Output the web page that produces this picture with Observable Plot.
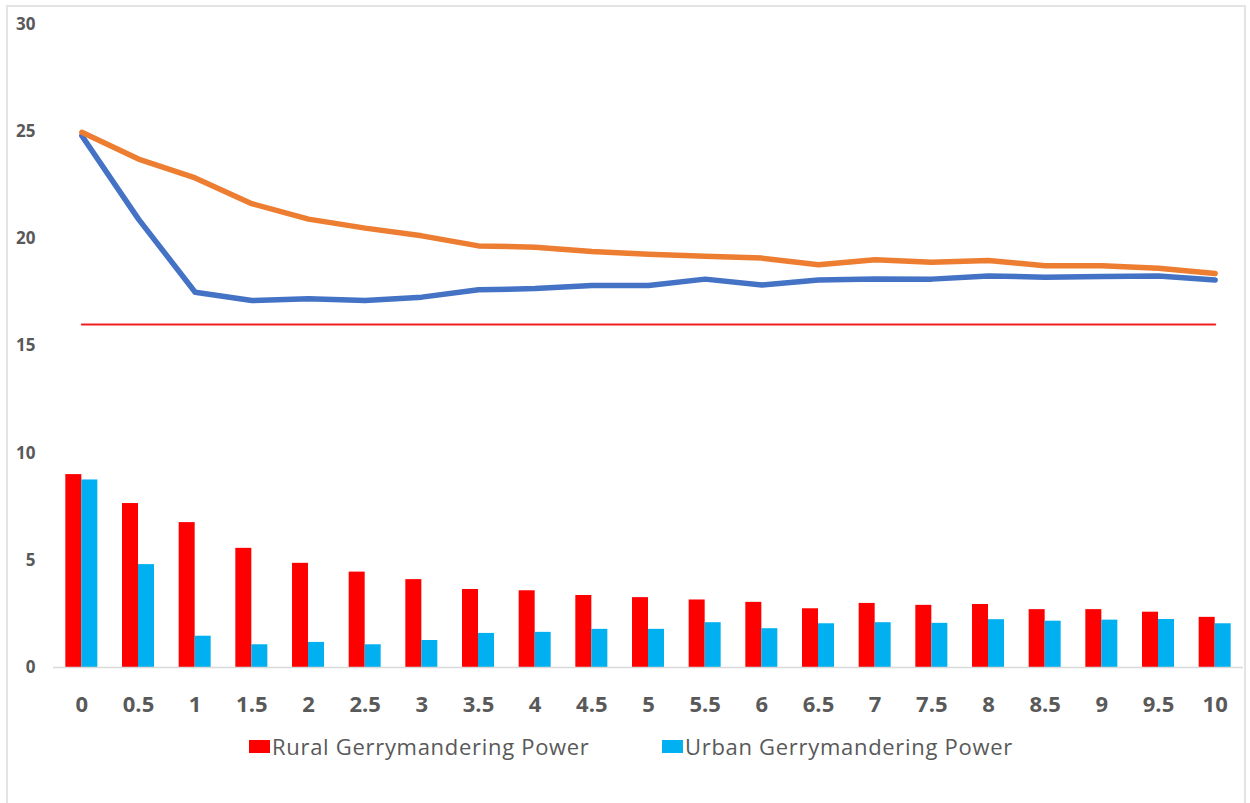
<!DOCTYPE html>
<html>
<head>
<meta charset="utf-8">
<script src="https://cdn.jsdelivr.net/npm/d3@7"></script>
<script src="https://cdn.jsdelivr.net/npm/@observablehq/plot@0.6"></script>
<style>
  html, body { margin: 0; padding: 0; background: #ffffff; }
  body { width: 1250px; height: 803px; position: relative; overflow: hidden; font-family: "Open Sans", sans-serif; }
  #frame { position: absolute; left: 6px; top: 5px; width: 1240px; height: 820px; border: 2px solid #e4e4e4; box-sizing: border-box; }
  #chart { position: absolute; left: 0; top: 0; }
  #chart g[aria-label^="y-axis"] text { font-size: 17px; font-weight: 700; fill: #595959; }
  #chart g[aria-label^="x-axis"] text { font-size: 22px; font-weight: 700; fill: #595959; }
  .legend { position: absolute; top: 731px; display: flex; align-items: center; color: #595959; font-size: 22px; letter-spacing: 0.7px; }
  .legend .sw { width: 21px; height: 13px; margin-right: 2px; }
</style>
</head>
<body>
<div id="frame"></div>
<div id="chart"></div>
<div class="legend" style="left:249px;"><div class="sw" style="background:#FF0000"></div><span>Rural Gerrymandering Power</span></div>
<div class="legend" style="left:662px;"><div class="sw" style="background:#00B0F0"></div><span>Urban Gerrymandering Power</span></div>
<script>
const categories = ["0","0.5","1","1.5","2","2.5","3","3.5","4","4.5","5","5.5","6","6.5","7","7.5","8","8.5","9","9.5","10"];
const ruralPower = [9.0,7.65,6.76,5.56,4.86,4.45,4.1,3.64,3.58,3.36,3.26,3.15,3.04,2.74,2.99,2.9,2.94,2.7,2.7,2.58,2.34];
const urbanPower = [8.75,4.8,1.46,1.06,1.17,1.06,1.26,1.59,1.64,1.78,1.78,2.09,1.81,2.04,2.09,2.06,2.23,2.16,2.21,2.24,2.04];
const orangeSeries = [24.97,23.72,22.84,21.64,20.92,20.5,20.14,19.67,19.61,19.41,19.28,19.19,19.1,18.79,19.02,18.91,18.99,18.74,18.74,18.63,18.38];
const blueSeries = [24.81,20.92,17.51,17.12,17.2,17.12,17.28,17.62,17.68,17.82,17.82,18.12,17.85,18.08,18.13,18.12,18.27,18.21,18.24,18.27,18.08];
const thresholdValue = 16;
const yTicks = [0,5,10,15,20,25,30];

const table = categories.map((c, i) => ({
  cat: c,
  rural: ruralPower[i],
  urban: urbanPower[i],
  orange: orangeSeries[i],
  blue: blueSeries[i],
  threshold: thresholdValue
}));

const chart = Plot.plot({
  width: 1250,
  height: 725,
  marginLeft: 53,
  marginRight: 7,
  marginTop: 24,
  marginBottom: 58,
  style: { fontFamily: "Open Sans, sans-serif", background: "transparent", overflow: "visible" },
  x: { type: "band", domain: categories, padding: 0, round: false, tickSize: 0, tickPadding: 29, label: null },
  y: { domain: [0, 30], ticks: yTicks, tickSize: 0, tickPadding: 18, label: null },
  marks: [
    Plot.barY(table, { x: "cat", y: "rural", fill: "#FF0000", insetLeft: 12.33, insetRight: 28.33 }),
    Plot.barY(table, { x: "cat", y: "urban", fill: "#00B0F0", insetLeft: 28.33, insetRight: 12.33 }),
    Plot.ruleY([0], { stroke: "#d9d9d9", strokeWidth: 1.5 }),
    Plot.line(table, { x: "cat", y: "threshold", stroke: "#F01E23", strokeWidth: 2 }),
    Plot.line(table, { x: "cat", y: "blue", stroke: "#4472C4", strokeWidth: 5.5, strokeLinecap: "round", strokeLinejoin: "round" }),
    Plot.line(table, { x: "cat", y: "orange", stroke: "#ED7D31", strokeWidth: 5.5, strokeLinecap: "round", strokeLinejoin: "round" })
  ]
});
document.getElementById("chart").appendChild(chart);
</script>
</body>
</html>
